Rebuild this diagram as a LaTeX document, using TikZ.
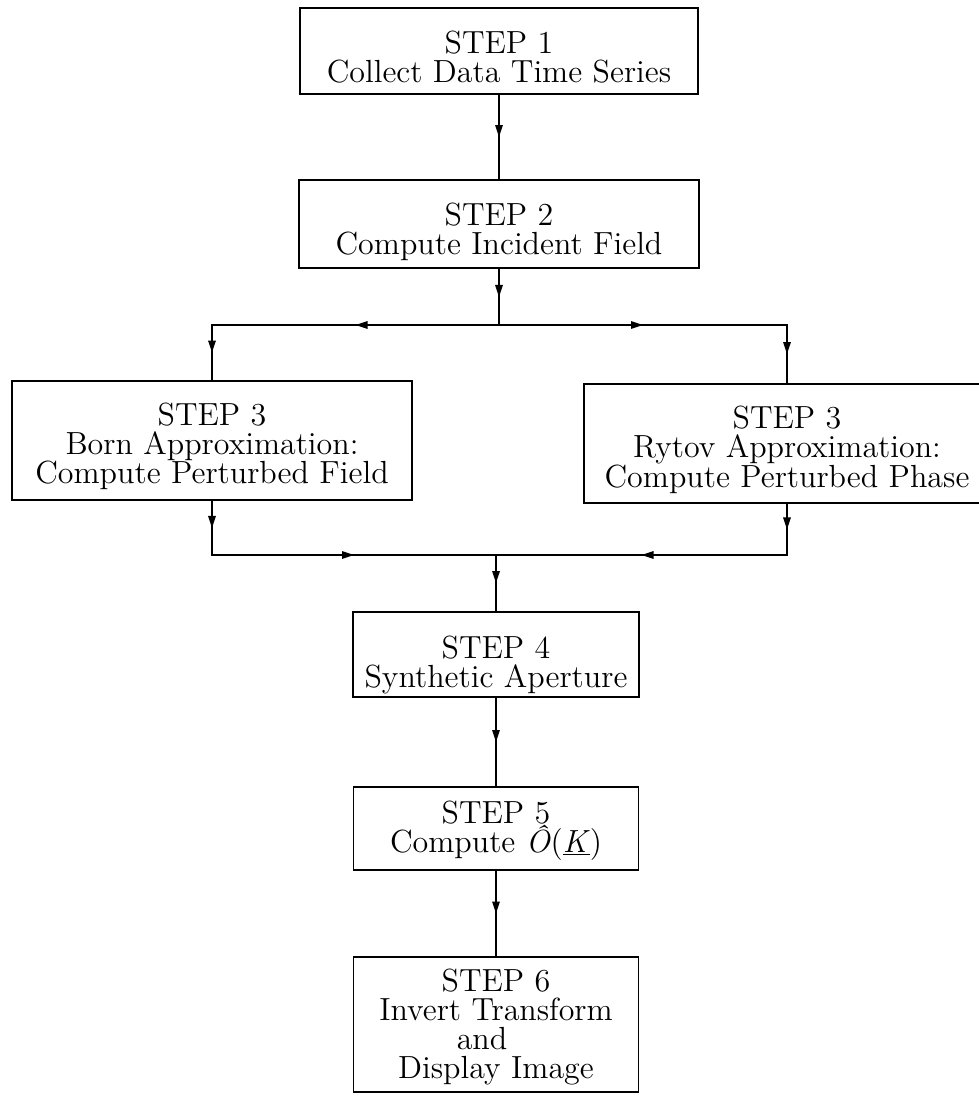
\documentclass[tikz,border=0pt]{standalone}
\usepackage{fontspec}
\setmainfont{lmroman12-regular}[Extension=.otf, ItalicFont=lmroman12-italic]
\usetikzlibrary{arrows.meta,decorations.markings}
\begin{document}
\begin{tikzpicture}[x=1pt,y=-1pt,
  box/.style={draw, rectangle, inner sep=0pt, line width=1.8pt},
  txt/.style={align=center, inner sep=0pt, anchor=north, font=\fontsize{32}{29}\selectfont},
  conn/.style={line width=1.6pt, line cap=rect},
  mid/.style={conn, decoration={markings, mark=at position 0.5 with {\arrow{Triangle[length=12pt,width=7.5pt]}}}, postaction={decorate}}
]
\useasboundingbox (0,0) rectangle (979,1101);
\clip (0,0) rectangle (979,1101);
% boxes
\node[box, minimum width=398pt, minimum height=86pt] (b1) at (499,51) {};
\node[txt] (t1) at (499,31) {STEP 1\\Collect Data Time Series};
\node[box, minimum width=400pt, minimum height=88pt] (b2) at (499,224) {};
\node[txt] (t2) at (499,203) {STEP 2\\Compute Incident Field};
\node[box, minimum width=400pt, minimum height=119pt] (b3l) at (212,440.5) {};
\node[txt] (t3l) at (212,403) {STEP 3\\Born Approximation:\\Compute Perturbed Field};
\node[box, minimum width=406pt, minimum height=119pt] (b3r) at (787,443.5) {};
\node[txt] (t3r) at (787,406) {STEP 3\\Rytov Approximation:\\Compute Perturbed Phase};
\node[box, minimum width=286pt, minimum height=85pt] (b4) at (496,654.5) {};
\node[txt] (t4) at (496,636) {STEP 4\\Synthetic Aperture};
\node[box, minimum width=285pt, minimum height=83pt] (b5) at (496,828.5) {};
\node[txt] (t5) at (496,801) {STEP 5\\Compute \textit{\^{O}}(\underline{\textit{K}})};
\node[box, minimum width=285pt, minimum height=135pt] (b6) at (496,1024.5) {};
\node[txt] (t6) at (496,969) {STEP 6\\Invert Transform\\\mbox{and\hspace{28pt}}\\Display Image};
% junction points
\coordinate (split) at (499,325);
\coordinate (sl) at (212,325);
\coordinate (sr) at (787,325);
\coordinate (ml) at (212,555);
\coordinate (mr) at (787,555);
\coordinate (merge) at (496,555);
% connectors
\draw[mid] (b1.south) -- (b2.north);
\draw[mid] (b2.south) -- (split);
\draw[mid] (split) -- (sl);
\draw[mid] (split) -- (sr);
\draw[mid] (sl) -- (b3l.north);
\draw[mid] (sr) -- (b3r.north);
\draw[mid] (b3l.south) -- (ml);
\draw[mid] (b3r.south) -- (mr);
\draw[mid] (ml) -- (merge);
\draw[mid] (mr) -- (merge);
\draw[mid] (merge) -- (b4.north);
\draw[mid] (b4.south) -- (b5.north);
\draw[mid] (b5.south) -- (b6.north);
\end{tikzpicture}
\end{document}
